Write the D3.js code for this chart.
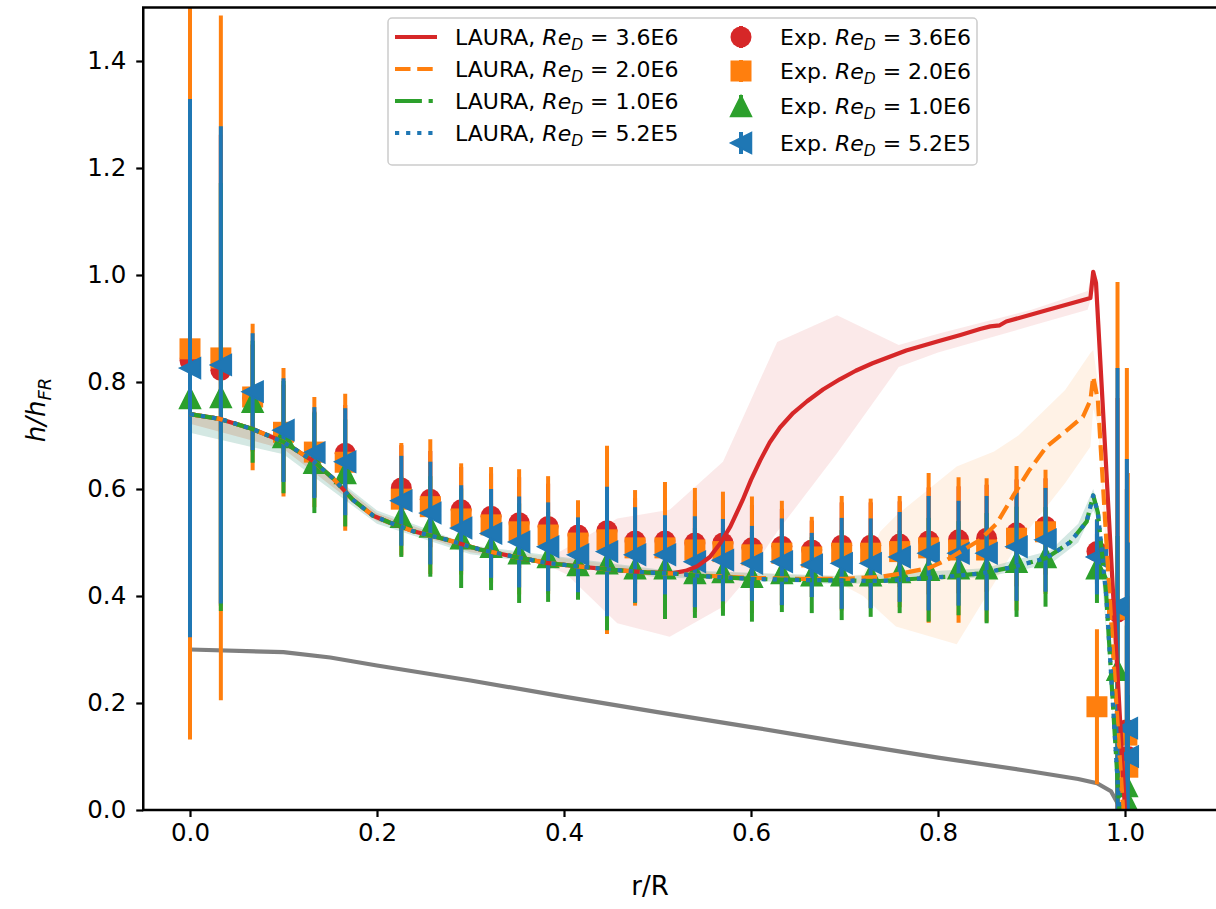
<!DOCTYPE html>
<html><head><meta charset="utf-8">
<script src="https://cdn.jsdelivr.net/npm/d3@7"></script>
<style>body{margin:0;background:#fff} text{font-family:"DejaVu Sans",sans-serif;fill:#000}</style>
</head><body><svg id="c" width="1216" height="909"></svg>
<script>
// ---------- DATA ----------
const xTicks = [0.0, 0.2, 0.4, 0.6, 0.8, 1.0];
const yTicks = [0.0, 0.2, 0.4, 0.6, 0.8, 1.0, 1.2, 1.4];

const lineLabels = ["3.6E6", "2.0E6", "1.0E6", "5.2E5"];

// LAURA curves
const lauraRedR = [0.000,0.032,0.067,0.100,0.132,0.153,0.174,0.196,0.214,0.239,0.275,0.310,0.345,0.381,0.417,0.452,0.488,0.517,0.530,0.542,0.556,0.567,0.578,0.591,0.600,0.610,0.620,0.631,0.645,0.660,0.677,0.695,0.712,0.730,0.766,0.802,0.824,0.845,0.856,0.866,0.873,0.916,0.963,0.966,0.969,1.000];
const lauraRedY = [0.740,0.731,0.712,0.688,0.652,0.620,0.580,0.550,0.537,0.521,0.505,0.487,0.474,0.462,0.455,0.449,0.444,0.443,0.447,0.455,0.473,0.498,0.530,0.579,0.617,0.654,0.687,0.715,0.742,0.764,0.786,0.805,0.821,0.835,0.859,0.877,0.888,0.899,0.904,0.906,0.913,0.934,0.957,1.006,0.985,0.000];

const lauraOrangeR = [0.000,0.032,0.067,0.100,0.132,0.153,0.174,0.196,0.214,0.239,0.275,0.310,0.345,0.381,0.417,0.452,0.488,0.517,0.550,0.600,0.650,0.700,0.740,0.760,0.790,0.809,0.845,0.863,0.880,0.898,0.916,0.938,0.955,0.963,0.966,0.971,0.987,0.998];
const lauraOrangeY = [0.740,0.731,0.712,0.688,0.652,0.620,0.580,0.550,0.537,0.521,0.505,0.487,0.474,0.462,0.455,0.449,0.444,0.442,0.438,0.434,0.432,0.432,0.436,0.442,0.452,0.467,0.505,0.536,0.586,0.636,0.679,0.710,0.735,0.766,0.810,0.766,0.300,0.000];

const lauraGreenR = [0.000,0.032,0.067,0.100,0.132,0.153,0.174,0.196,0.214,0.239,0.275,0.310,0.345,0.381,0.417,0.452,0.488,0.517,0.550,0.600,0.650,0.700,0.738,0.809,0.845,0.880,0.916,0.941,0.959,0.966,0.971,0.980,0.994];
const lauraGreenY = [0.740,0.731,0.712,0.688,0.652,0.620,0.580,0.550,0.537,0.521,0.505,0.487,0.474,0.462,0.455,0.449,0.444,0.442,0.437,0.432,0.430,0.429,0.428,0.436,0.442,0.454,0.471,0.500,0.539,0.588,0.556,0.400,0.000];

const lauraBlueR = [0.000,0.032,0.067,0.100,0.132,0.153,0.174,0.196,0.214,0.239,0.275,0.310,0.345,0.381,0.417,0.452,0.488,0.517,0.550,0.600,0.650,0.700,0.738,0.809,0.845,0.880,0.916,0.941,0.959,0.966,0.971,0.980,0.994];
const lauraBlueY = [0.740,0.731,0.712,0.688,0.652,0.620,0.580,0.550,0.537,0.521,0.505,0.487,0.474,0.462,0.455,0.449,0.444,0.442,0.437,0.432,0.430,0.429,0.428,0.436,0.442,0.454,0.471,0.500,0.539,0.588,0.556,0.400,0.000];

// uncertainty bands
const bandRedR  = [0.000,0.100,0.200,0.300,0.380,0.403,0.457,0.513,0.570,0.588,0.628,0.692,0.758,0.800,0.900,0.960,0.966,0.971,1.000];
const bandRedLo = [0.722,0.675,0.540,0.482,0.460,0.440,0.349,0.324,0.380,0.417,0.520,0.667,0.828,0.855,0.905,0.935,0.970,0.960,0.000];
const bandRedHi = [0.745,0.695,0.555,0.492,0.468,0.490,0.545,0.561,0.651,0.720,0.875,0.925,0.869,0.890,0.935,0.970,1.010,0.990,0.000];

const bandOrangeR  = [0.000,0.100,0.200,0.300,0.500,0.690,0.720,0.738,0.755,0.820,0.860,0.886,0.936,0.963,0.966,0.971,0.998];
const bandOrangeLo = [0.722,0.675,0.540,0.482,0.438,0.428,0.400,0.370,0.343,0.310,0.424,0.500,0.611,0.679,0.750,0.720,0.000];
const bandOrangeHi = [0.745,0.695,0.555,0.492,0.448,0.438,0.440,0.520,0.550,0.642,0.670,0.700,0.785,0.854,0.860,0.800,0.000];

const bandGreenR  = [0.000,0.100,0.200,0.300,0.500,0.700,0.850,0.920,0.950,0.966,0.971,0.994];
const bandGreenLo = [0.705,0.665,0.535,0.478,0.435,0.422,0.435,0.460,0.500,0.560,0.540,0.000];
const bandGreenHi = [0.745,0.697,0.560,0.495,0.450,0.437,0.452,0.485,0.535,0.600,0.570,0.000];

const bandBlueR  = [0.000,0.100,0.200,0.300,0.500,0.700,0.850,0.920,0.950,0.966,0.971,0.994];
const bandBlueLo = [0.705,0.665,0.535,0.478,0.435,0.422,0.435,0.460,0.500,0.560,0.540,0.000];
const bandBlueHi = [0.745,0.697,0.560,0.495,0.450,0.437,0.452,0.485,0.535,0.600,0.570,0.000];

// gray reference curve
const grayR = [0.000,0.100,0.150,0.200,0.300,0.400,0.500,0.600,0.700,0.800,0.900,0.950,0.970,0.985,0.993];
const grayY = [0.300,0.295,0.285,0.270,0.242,0.212,0.183,0.155,0.126,0.098,0.072,0.058,0.050,0.035,0.010];

// experimental data
const expR = [0.000,0.033,0.067,0.100,0.133,0.166,0.226,0.257,0.290,0.322,0.352,0.383,0.415,0.446,0.476,0.508,0.540,0.570,0.601,0.633,0.665,0.697,0.728,0.759,0.790,0.822,0.852,0.884,0.915,0.970,0.992,1.002,1.003];
const expRed    = [0.840,0.822,0.770,0.705,0.665,0.667,0.602,0.581,0.561,0.549,0.537,0.530,0.514,0.522,0.503,0.503,0.499,0.499,0.490,0.493,0.486,0.495,0.495,0.497,0.503,0.505,0.508,0.518,0.530,0.483,0.370,0.150,0.100];
const expOrange = [0.862,0.845,0.772,0.706,0.669,0.650,0.581,0.567,0.544,0.533,0.520,0.514,0.499,0.505,0.490,0.490,0.486,0.483,0.477,0.480,0.473,0.480,0.480,0.483,0.490,0.486,0.486,0.508,0.520,0.193,0.375,0.140,0.080];
const expGreen  = [0.770,0.772,0.763,0.697,0.649,0.630,0.548,0.530,0.508,0.492,0.480,0.473,0.458,0.461,0.452,0.452,0.443,0.445,0.436,0.443,0.439,0.439,0.439,0.445,0.449,0.452,0.452,0.464,0.473,0.452,0.262,0.045,0.015];
const expBlue   = [0.826,0.832,0.782,0.710,0.668,0.651,0.578,0.555,0.527,0.517,0.501,0.492,0.477,0.483,0.477,0.477,0.464,0.467,0.461,0.464,0.458,0.461,0.461,0.473,0.480,0.480,0.480,0.492,0.505,0.473,0.380,0.153,0.100];
const errRed    = [0.500,0.440,0.100,0.090,0.080,0.090,0.080,0.090,0.080,0.080,0.085,0.080,0.060,0.120,0.080,0.080,0.080,0.080,0.080,0.070,0.055,0.080,0.080,0.080,0.100,0.100,0.100,0.100,0.090,0.060,0.400,0.450,0.300];
const errOrange = [0.730,0.640,0.137,0.120,0.103,0.128,0.105,0.126,0.104,0.108,0.117,0.110,0.080,0.176,0.108,0.123,0.116,0.112,0.109,0.098,0.075,0.107,0.102,0.104,0.140,0.136,0.134,0.135,0.116,0.145,0.612,0.686,0.550];
const errGreen  = [0.400,0.400,0.114,0.105,0.094,0.100,0.075,0.094,0.093,0.081,0.093,0.084,0.065,0.125,0.065,0.095,0.084,0.082,0.084,0.073,0.071,0.084,0.078,0.077,0.097,0.088,0.103,0.103,0.093,0.065,0.250,0.300,0.200];
const errBlue   = [0.503,0.446,0.109,0.097,0.085,0.100,0.084,0.096,0.080,0.083,0.085,0.083,0.070,0.121,0.089,0.074,0.085,0.077,0.070,0.081,0.060,0.085,0.084,0.084,0.107,0.098,0.107,0.101,0.097,0.070,0.446,0.503,0.400];

// ---------- DRAW ----------
const C = {red:"#d62728", orange:"#ff7f0e", green:"#2ca02c", blue:"#1f77b4", gray:"#7f7f7f"};
const svg = d3.select("#c");
const x = d3.scaleLinear().domain([-0.05, 1.1]).range([143.25, 1218.5]);
const y = d3.scaleLinear().domain([0, 1.5]).range([810, 7.5]);
const LW = 4.2;

svg.append("defs").append("clipPath").attr("id","clip")
  .append("rect").attr("x",143.25).attr("y",7.5).attr("width",1216-143.25+10).attr("height",810-7.5);
const plot = svg.append("g").attr("clip-path","url(#clip)");

function band(rs, lo, hi, col){
  const pts = rs.map((r,i)=>({r, lo:lo[i], hi:hi[i]}));
  plot.append("path").datum(pts)
    .attr("d", d3.area().x(d=>x(d.r)).y0(d=>y(d.lo)).y1(d=>y(d.hi)))
    .attr("fill", col).attr("fill-opacity", 0.1).attr("stroke","none");
}
band(bandRedR, bandRedLo, bandRedHi, C.red);
band(bandOrangeR, bandOrangeLo, bandOrangeHi, C.orange);
band(bandGreenR, bandGreenLo, bandGreenHi, C.green);
band(bandBlueR, bandBlueLo, bandBlueHi, C.blue);

// gray line
plot.append("path").datum(grayR.map((r,i)=>[r, grayY[i]]))
  .attr("d", d3.line().x(d=>x(d[0])).y(d=>y(d[1])))
  .attr("fill","none").attr("stroke",C.gray).attr("stroke-width",LW);

// markers
const MS = 21;
function marker(g, kind, cx, cy, col){
  const h = MS/2;
  if(kind==="circle") g.append("circle").attr("cx",cx).attr("cy",cy).attr("r",h).attr("fill",col);
  else if(kind==="square") g.append("rect").attr("x",cx-h).attr("y",cy-h).attr("width",MS).attr("height",MS).attr("fill",col);
  else if(kind==="up") g.append("path").attr("d",`M${cx},${cy-h}L${cx-h},${cy+h}L${cx+h},${cy+h}Z`).attr("fill",col).attr("stroke",col).attr("stroke-width",1.5).attr("stroke-linejoin","miter");
  else if(kind==="left") g.append("path").attr("d",`M${cx-h},${cy}L${cx+h},${cy-h}L${cx+h},${cy+h}Z`).attr("fill",col).attr("stroke",col).attr("stroke-width",1.5).attr("stroke-linejoin","miter");
}

const expSeries = [
  {vals:expRed, errs:errRed, col:C.red, kind:"circle"},
  {vals:expOrange, errs:errOrange, col:C.orange, kind:"square"},
  {vals:expGreen, errs:errGreen, col:C.green, kind:"up"},
  {vals:expBlue, errs:errBlue, col:C.blue, kind:"left"}
];
expSeries.forEach(s=>{
  const g = plot.append("g");
  g.selectAll("line").data(expR).join("line")
    .attr("x1",(d)=>x(d)).attr("x2",(d)=>x(d))
    .attr("y1",(d,i)=>y(s.vals[i]-s.errs[i])).attr("y2",(d,i)=>y(s.vals[i]+s.errs[i]))
    .attr("stroke",s.col).attr("stroke-width",4);
  expR.forEach((r,i)=>marker(g, s.kind, x(r), y(s.vals[i]), s.col));
});

// LAURA lines
const lauraSeries = [
  {r:lauraRedR, v:lauraRedY, col:C.red, dash:null},
  {r:lauraOrangeR, v:lauraOrangeY, col:C.orange, dash:[15.5,6.7]},
  {r:lauraGreenR, v:lauraGreenY, col:C.green, dash:[26.9,6.7,4.2,6.7]},
  {r:lauraBlueR, v:lauraBlueY, col:C.blue, dash:[4.2,6.9]}
];
lauraSeries.forEach(s=>{
  plot.append("path").datum(s.r.map((r,i)=>[r, s.v[i]]))
    .attr("d", d3.line().x(d=>x(d[0])).y(d=>y(d[1])))
    .attr("fill","none").attr("stroke",s.col).attr("stroke-width",LW)
    .attr("stroke-linejoin","round")
    .attr("stroke-dasharray", s.dash ? s.dash.join(",") : null);
});

// axes
const TFS = 24.5, LFS = 26, GFS = 22;
const xAxis = svg.append("g").attr("transform","translate(0,810)")
  .call(d3.axisBottom(x).tickValues(xTicks).tickFormat(d3.format(".1f")).tickSize(7).tickPadding(7));
const yAxis = svg.append("g").attr("transform","translate(143.25,0)")
  .call(d3.axisLeft(y).tickValues(yTicks).tickFormat(d3.format(".1f")).tickSize(7).tickPadding(10));
[xAxis,yAxis].forEach(a=>{
  a.select(".domain").remove();
  a.selectAll(".tick line").attr("stroke","#000").attr("stroke-width",2.2);
  a.selectAll(".tick text").attr("font-size",TFS).attr("font-family","DejaVu Sans").attr("fill","#000");
});
// spines
svg.append("line").attr("x1",143.25).attr("x2",143.25).attr("y1",7.5).attr("y2",810).attr("stroke","#000").attr("stroke-width",2.5);
svg.append("line").attr("x1",142).attr("x2",1216).attr("y1",810).attr("y2",810).attr("stroke","#000").attr("stroke-width",2.5);
svg.append("line").attr("x1",142).attr("x2",1216).attr("y1",7.5).attr("y2",7.5).attr("stroke","#000").attr("stroke-width",2.5);

// axis labels
svg.append("text").attr("x",650).attr("y",895).attr("text-anchor","middle").attr("font-size",LFS).text("r/R");
const yl = svg.append("text").attr("transform","translate(45,410) rotate(-90)").attr("text-anchor","middle").attr("font-size",LFS);
yl.append("tspan").attr("font-style","italic").text("h/h");
yl.append("tspan").attr("font-style","italic").attr("font-size",18).attr("dy",6).text("FR");

// legend
const lg = svg.append("g");
lg.append("rect").attr("x",388).attr("y",18).attr("width",589).attr("height",147).attr("rx",4)
  .attr("fill","#fff").attr("fill-opacity",0.8).attr("stroke","#cccccc").attr("stroke-width",1.5);
const leftRows = [37, 69, 101, 133];
const rightRows = [37, 71, 106, 143];
function legText(tx, ty, prefix, val){
  const t = lg.append("text").attr("x",tx).attr("y",ty+8).attr("font-size",GFS);
  t.append("tspan").text(prefix);
  t.append("tspan").attr("font-style","italic").text("Re");
  t.append("tspan").attr("font-style","italic").attr("font-size",15.5).attr("dy",5).text("D");
  t.append("tspan").attr("dy",-5).text(" = " + val);
}
lauraSeries.forEach((s,i)=>{
  lg.append("line").attr("x1",395).attr("x2",437).attr("y1",leftRows[i]).attr("y2",leftRows[i])
    .attr("stroke",s.col).attr("stroke-width",LW).attr("stroke-dasharray", s.dash ? s.dash.join(",") : null);
  legText(455, leftRows[i], "LAURA, ", lineLabels[i]);
});
expSeries.forEach((s,i)=>{
  lg.append("line").attr("x1",741).attr("x2",741).attr("y1",rightRows[i]-11).attr("y2",rightRows[i]+11)
    .attr("stroke",s.col).attr("stroke-width",4);
  marker(lg, s.kind, 741, rightRows[i], s.col);
  legText(780, rightRows[i], "Exp. ", lineLabels[i]);
});
</script></body></html>
